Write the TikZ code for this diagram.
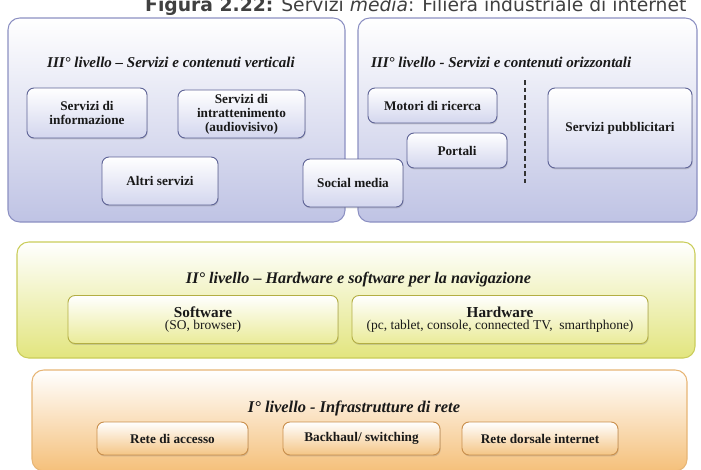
\documentclass[tikz,border=0pt]{standalone}
\usepackage{fontspec}
\setmainfont{Liberation Serif}
\newfontfamily\titlefont{DejaVu Sans}
\usetikzlibrary{shadows}

\definecolor{bluBordo}{HTML}{8C90C2}
\definecolor{bluFondo}{HTML}{BFC3E4}
\definecolor{bluBox}{HTML}{5E6396}
\definecolor{bluBoxFondo}{HTML}{D3D6EE}
\definecolor{gialloBordo}{HTML}{CACD5A}
\definecolor{gialloFondo}{HTML}{E2E57E}
\definecolor{gialloBox}{HTML}{B3AE44}
\definecolor{gialloBoxFondo}{HTML}{EAEB98}
\definecolor{aranBordo}{HTML}{E7B575}
\definecolor{aranFondo}{HTML}{F5C07A}
\definecolor{aranBox}{HTML}{C98F4C}
\definecolor{aranBoxFondo}{HTML}{F4C585}

\begin{document}
\begin{tikzpicture}[x=0.03cm,y=-0.03cm,
    font=\fontsize{11.3}{11.8}\selectfont\bfseries,text=black!90,
    dim/.style 2 args={minimum width=#1*0.03cm,minimum height=#2*0.03cm},
    pannello/.style={rounded corners=10pt,draw,line width=0.9pt,inner sep=0pt},
    box/.style={rounded corners=6pt,draw,line width=0.8pt,align=center,inner sep=2pt,
      drop shadow={opacity=0.3,shadow xshift=0.6pt,shadow yshift=-1.2pt}},
    blu/.style={draw=bluBordo,top color=white,bottom color=bluFondo},
    blubox/.style={box,draw=bluBox,top color=white,bottom color=bluBoxFondo},
    giallo/.style={draw=gialloBordo,top color=white,bottom color=gialloFondo},
    giallobox/.style={box,draw=gialloBox,top color=white,bottom color=gialloBoxFondo},
    arancio/.style={draw=aranBordo,top color=white,bottom color=aranFondo},
    aranbox/.style={box,draw=aranBox,top color=white,bottom color=aranBoxFondo},
    intest/.style={font=\fontsize{#1}{14}\selectfont\bfseries\itshape},
    intest/.default=12.8]
  \useasboundingbox (0,0) rectangle (701,469);
  % Titolo (tagliato in alto)
  \node[anchor=base west,inner sep=0pt,text=black!75,
    font=\titlefont\fontsize{16}{18}\selectfont] (titolo) at (145,11)
    {\textbf{Figura 2.22:} Servizi \textit{media}: Filiera industriale di internet};
  % Pannelli
  \node[pannello,blu,dim={337}{204}] (verticali) at (176.5,120) {};
  \node[pannello,blu,dim={339}{204}] (orizzontali) at (527.5,120) {};
  \node[pannello,giallo,dim={678}{116}] (navigazione) at (356,300) {};
  \node[pannello,arancio,dim={655}{101}] (infrastrutture) at (359.5,420.5) {};
  % III livello - verticali
  \node[intest] (titVert) at (171,62) {III° livello – Servizi e contenuti verticali};
  \node[blubox,dim={120}{50}] (informazione) at (87,113) {Servizi di\\informazione};
  \node[blubox,dim={127}{48}] (intrattenimento) at (241.5,114) {Servizi di\\intrattenimento\\(audiovisivo)};
  \node[blubox,dim={116}{48}] (altri) at (160,181) {Altri servizi};
  % III livello - orizzontali
  \node[intest,anchor=west] (titOriz) at (367,62) {III° livello - Servizi e contenuti orizzontali};
  \node[blubox,dim={129}{35}] (motori) at (432.5,105.5) {Motori di ricerca};
  \node[blubox,dim={100}{35}] (portali) at (457,150.5) {Portali};
  \node[blubox,dim={144}{80}] (pubblicitari) at (620,128) {Servizi pubblicitari};
  \coordinate (divA) at (525,80);
  \coordinate (divB) at (525,183);
  \draw[line width=1.3pt,dash pattern=on 4pt off 2.5pt,black!80] (divA) -- (divB);
  % Social media a cavallo dei due pannelli
  \node[blubox,dim={100}{48}] (social) at (353,183) {Social media};
  % II livello
  \node[intest=13.8] (titNav) at (358.5,280) {II° livello – Hardware e software per la navigazione};
  \node[giallobox,dim={270}{48}] (software) at (203,319.5)
    {\fontsize{13}{14}\selectfont Software\\[-1pt]\mdseries\fontsize{11.5}{12}\selectfont(SO, browser)};
  \node[giallobox,dim={296}{48}] (hardware) at (500,319.5)
    {\fontsize{13}{14}\selectfont Hardware\\[-1pt]\mdseries\fontsize{11.5}{12}\selectfont(pc, tablet, console, connected TV, \ smarthphone)};
  % I livello
  \node[intest=14] (titInfra) at (354,408) {I° livello - Infrastrutture di rete};
  \foreach \nome/\cx/\w/\testo in {accesso/172.5/151/{Rete di accesso},
      backhaul/361.5/157/{Backhaul/ switching},dorsale/540/156/{Rete dorsale internet}} {
    \node[aranbox,dim={\w}{33}] (\nome) at (\cx,438.5) {\testo};
  }
\end{tikzpicture}
\end{document}
